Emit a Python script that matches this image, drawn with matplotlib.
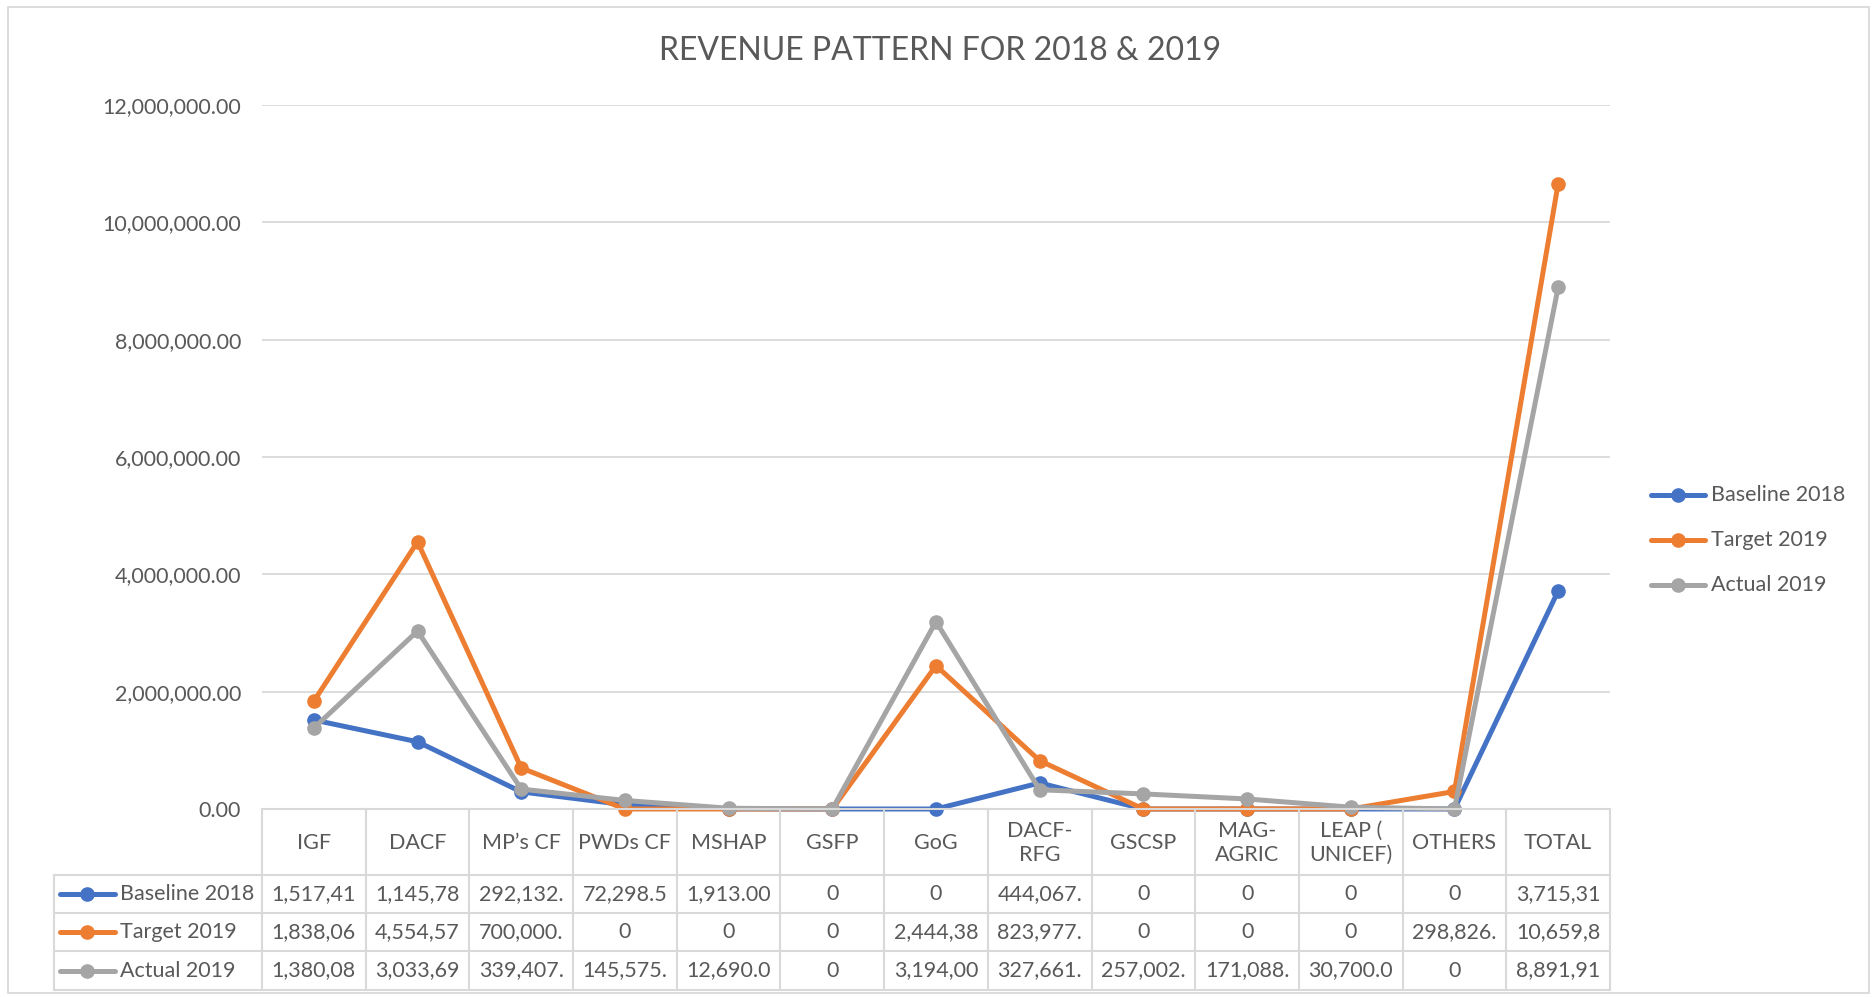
import matplotlib
matplotlib.use("Agg")
import matplotlib.pyplot as plt
from matplotlib.lines import Line2D
from matplotlib.patches import Rectangle

plt.rcParams['font.family'] = ['Lato', 'DejaVu Sans']

categories = ["IGF", "DACF", "MP\u2019s CF", "PWDs CF", "MSHAP", "GSFP", "GoG",
              "DACF-\nRFG", "GSCSP", "MAG-\nAGRIC", "LEAP (\nUNICEF)", "OTHERS", "TOTAL"]
series_names = ["Baseline 2018", "Target 2019", "Actual 2019"]
baseline_2018 = [1517410, 1145780, 292132, 72298.5, 1913, 0, 0, 444067, 0, 0, 0, 0, 3715310]
target_2019 = [1838060, 4554570, 700000, 0, 0, 0, 2444380, 823977, 0, 0, 0, 298826, 10659800]
actual_2019 = [1380080, 3033690, 339407, 145575, 12690, 0, 3194000, 327661, 257002, 171088, 30700, 0, 8891910]
y_ticks = [0, 2000000, 4000000, 6000000, 8000000, 10000000, 12000000]
title = "REVENUE PATTERN FOR 2018 & 2019"

colors = ["#4472C4", "#ED7D31", "#A5A5A5"]
text_color = "#595959"
grid_color = "#D9D9D9"

W, H = 1876, 997
fig = plt.figure(figsize=(W / 100, H / 100), dpi=100)

# pixel layout
px_left, px_right = 262, 1610
px_top, px_zero = 105, 809
row_edges = [875, 913, 951, 990]
label_left = 54

def fx(x):
    return x / W

def fy(y):
    return 1 - y / H

ax = fig.add_axes([fx(px_left), fy(px_zero), fx(px_right - px_left), (px_zero - px_top) / H])
n = len(categories)
xs = list(range(n))
ax.set_xlim(-0.5, n - 0.5)
ax.set_ylim(0, 12000000)
for s in ax.spines.values():
    s.set_visible(False)
ax.set_yticks(y_ticks)
ax.set_yticklabels([f"{v:,.2f}" for v in y_ticks], fontsize=15.5, color=text_color)
ax.tick_params(axis='y', length=0, pad=15)
ax.set_xticks([])
ax.grid(axis='y', color=grid_color, linewidth=1.3)
ax.set_axisbelow(True)

all_series = [baseline_2018, target_2019, actual_2019]
for i, (vals, c, name) in enumerate(zip(all_series, colors, series_names)):
    ax.plot(xs, vals, color=c, linewidth=3.6, marker='o', markersize=9.5,
            solid_capstyle='round', solid_joinstyle='round', clip_on=False, zorder=3 + i,
            label=name)

# overlay in pixel coords
ov = fig.add_axes([0, 0, 1, 1])
ov.set_xlim(0, W)
ov.set_ylim(H, 0)
ov.axis('off')
ov.patch.set_alpha(0)

# chart border
ov.add_patch(Rectangle((8, 7), 1861, 986, fill=False, edgecolor=grid_color, linewidth=1.3))

# title
ov.text(W / 2 + 2, 51, title, ha='center', va='center', fontsize=23, color=text_color)

# table lines
lc = grid_color
lw = 1.5
colw = (px_right - px_left) / n
ov.plot([px_left, px_right], [px_zero, px_zero], color=lc, lw=lw)
for k in range(n + 1):
    x = px_left + k * colw
    ov.plot([x, x], [px_zero, row_edges[-1]], color=lc, lw=lw)
for y in row_edges:
    ov.plot([label_left, px_right], [y, y], color=lc, lw=lw)
ov.plot([label_left, label_left], [row_edges[0], row_edges[-1]], color=lc, lw=lw)

# header texts
for k, cat in enumerate(categories):
    cx = px_left + (k + 0.5) * colw
    ov.text(cx, (px_zero + row_edges[0]) / 2 + 1, cat, ha='center', va='center',
            fontsize=15.5, color=text_color, linespacing=1.25)

def fmt(v):
    if v == 0:
        return "0"
    return f"{v:,.2f}"[:8]

for r, (vals, c, name) in enumerate(zip(all_series, colors, series_names)):
    cy = (row_edges[r] + row_edges[r + 1]) / 2
    ov.plot([60, 115], [cy, cy], color=c, lw=3.6, solid_capstyle='round')
    ov.plot([87], [cy], marker='o', color=c, markersize=9.5)
    ov.text(120, cy, name, ha='left', va='center', fontsize=15.5, color=text_color)
    for k, v in enumerate(vals):
        cx = px_left + (k + 0.5) * colw
        ov.text(cx, cy, fmt(v), ha='center', va='center', fontsize=15.5, color=text_color)

# legend
leg_y = [495, 540, 585]
for c, name, y in zip(colors, series_names, leg_y):
    ov.plot([1651, 1705], [y, y], color=c, lw=3.6, solid_capstyle='round')
    ov.plot([1678], [y], marker='o', color=c, markersize=9.5)
    ov.text(1711, y, name, ha='left', va='center', fontsize=15.5, color=text_color)

fig.savefig("out.png", dpi=100, facecolor="white")
